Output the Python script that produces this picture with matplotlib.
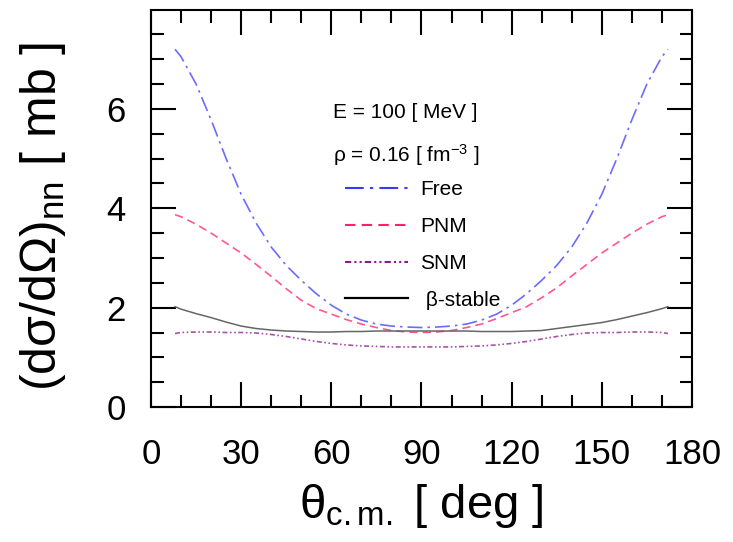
import numpy as np
import matplotlib
matplotlib.use('Agg')
import matplotlib.pyplot as plt
from matplotlib.lines import Line2D

plt.rcParams['font.family'] = ['Liberation Sans', 'DejaVu Sans']
plt.rcParams['mathtext.fontset'] = 'custom'
plt.rcParams['mathtext.rm'] = 'Liberation Sans'
plt.rcParams['mathtext.it'] = 'Liberation Sans:italic'

# scattering angle [deg]
theta = [8, 10, 15, 20, 25, 30, 35, 40, 45, 50, 55, 60, 65, 70, 75, 80, 85, 90,
         95, 100, 105, 110, 115, 120, 125, 130, 135, 140, 145, 150, 155, 160, 165, 170, 172]

# (dsigma/dOmega)_nn [mb]
free = [7.2, 7.05, 6.5, 5.78, 5.0, 4.28, 3.7, 3.22, 2.85, 2.55, 2.28, 2.05, 1.87, 1.75, 1.67, 1.63, 1.61, 1.6,
        1.61, 1.63, 1.67, 1.75, 1.87, 2.05, 2.28, 2.55, 2.85, 3.22, 3.7, 4.28, 5.0, 5.78, 6.5, 7.05, 7.2]
pnm = [3.87, 3.83, 3.68, 3.5, 3.3, 3.1, 2.87, 2.63, 2.38, 2.15, 1.98, 1.87, 1.76, 1.67, 1.6, 1.54, 1.51, 1.5,
       1.51, 1.54, 1.6, 1.67, 1.78, 1.9, 2.02, 2.2, 2.4, 2.64, 2.87, 3.1, 3.3, 3.5, 3.68, 3.83, 3.87]
snm = [1.48, 1.5, 1.51, 1.51, 1.5, 1.5, 1.49, 1.46, 1.42, 1.37, 1.32, 1.28, 1.25, 1.23, 1.22, 1.21, 1.21, 1.21,
       1.21, 1.21, 1.22, 1.23, 1.25, 1.28, 1.32, 1.37, 1.42, 1.46, 1.49, 1.5, 1.5, 1.51, 1.51, 1.5, 1.48]
beta = [2.02, 1.97, 1.88, 1.8, 1.71, 1.63, 1.58, 1.55, 1.53, 1.52, 1.51, 1.51, 1.52, 1.52, 1.53, 1.53, 1.53, 1.53,
        1.53, 1.53, 1.53, 1.52, 1.52, 1.52, 1.53, 1.54, 1.58, 1.62, 1.66, 1.7, 1.76, 1.83, 1.9, 1.98, 2.02]

labels = ['Free', 'PNM', 'SNM', ' \u03b2-stable']
colors = ['#3a3aff', '#ff1f6a', '#8a1a8a', '#222222']
dashes = [(9, 3, 1.5, 3), (5, 3), (3, 1.5, 1, 1.5, 1, 1.5), None]

fig = plt.figure(figsize=(7.33, 5.42), dpi=100)
ax = fig.add_axes([0.206, 0.249, 0.738, 0.7325])

series = [free, pnm, snm, beta]
handles = []
for y, c, d, lab in zip(series, colors, dashes, labels):
    if d is None:
        ax.plot(theta, y, color='#666666', lw=1.1)
        handles.append(Line2D([], [], color='black', lw=1.6))
    else:
        ax.plot(theta, y, color=c, lw=1.2, alpha=0.75, dashes=d)
        handles.append(Line2D([], [], color=c, lw=1.5, dashes=d))

ax.set_xlim(0, 180)
ax.set_ylim(0, 7.99)
ax.set_xticks(np.arange(0, 181, 30))
ax.set_xticks(np.arange(0, 181, 10), minor=True)
ax.set_yticks([0, 2, 4, 6])
ax.set_yticks(np.arange(0, 8, 0.5), minor=True)

ax.tick_params(which='both', direction='in', top=True, right=True, width=1.5,
               labelsize=25)
ax.tick_params(which='major', length=18)
ax.tick_params(which='minor', length=9)
ax.tick_params(axis='x', pad=22)
ax.tick_params(axis='y', pad=18)
for s in ax.spines.values():
    s.set_linewidth(1.5)

ax.set_xlabel('\u03b8$_{\\rm c{.}m{.}}$ [ deg ]', fontsize=34, va='center')
ax.xaxis.set_label_coords(0.5, -0.25)
ax.set_ylabel('(d\u03c3/d\u03a9)$_{\\rm nn}$ [ mb ]', fontsize=36, va='center')
ax.yaxis.set_label_coords(-0.2, 0.48)

ax.text(0.336, 0.743, 'E = 100 [ MeV ]', transform=ax.transAxes, fontsize=15, va='center')
ax.text(0.336, 0.635, '\u03c1 = 0.16 [ fm$^{-3}$ ]', transform=ax.transAxes, fontsize=15, va='center')

ax.legend(handles, labels, loc='upper left', bbox_to_anchor=(0.34, 0.597), frameon=False,
          fontsize=15, handlelength=3.0, handletextpad=0.6, labelspacing=0.85, borderpad=0)

fig.savefig('out.png', dpi=100)
